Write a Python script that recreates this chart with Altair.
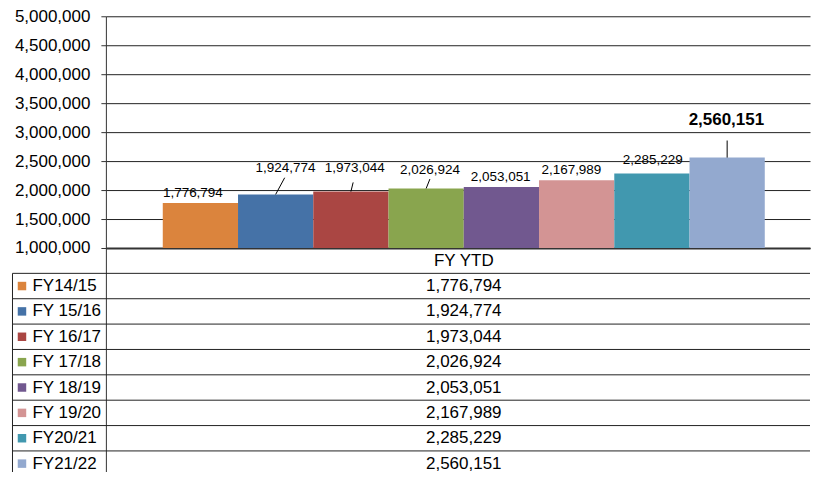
import altair as alt
import pandas as pd

# ---- data ----
category = "FY YTD"
series = ["FY14/15", "FY 15/16", "FY 16/17", "FY 17/18", "FY 18/19", "FY 19/20", "FY20/21", "FY21/22"]
values = [1776794, 1924774, 1973044, 2026924, 2053051, 2167989, 2285229, 2560151]
colors = ["#DB843D", "#4572A7", "#AA4643", "#89A54E", "#71588F", "#D39494", "#4198AF", "#93A9CF"]
y_ticks = [1000000, 1500000, 2000000, 2500000, 3000000, 3500000, 4000000, 4500000, 5000000]

# data-label placement (in data units: bar index / value), as moved in the original
label_x = [-0.10, 1.13, 2.05, 3.05, 3.99, 4.93, 6.01, 6.99]
label_y = [1955000, 2376000, 2376000, 2350000, 2230000, 2342000, 2522000, 3216000]
leader_idx = [1, 2, 3, 7]
leader_top_x = [1.12, 2.03, 3.05, 7.0]
leader_top_y = [2213000, 2132000, 2190000, 2855000]

# ---- layout ----
W = 705          # plot width
H = 232          # bar plot height
ROW_H = 25.4
rows = [category] + series
TH = ROW_H * len(rows)
EXT = 94         # width of the left axis / table label column
FONT = "Liberation Sans"
LINE = "#222222"
X_MIN, X_MAX = -1.256, len(series) - 0.5 + 0.601
# table values are centred under the middle of the bar group
TABLE_CX = W * ((len(series) - 1) / 2 - X_MIN) / (X_MAX - X_MIN)

idx = list(range(len(series)))
bars = pd.DataFrame({
    "series": series,
    "value": values,
    "x0": [i - 0.5 for i in idx],
    "x1": [i + 0.5 for i in idx],
    "label_x": label_x,
    "label_y": label_y,
    "last": [i == len(series) - 1 for i in idx],
})
leaders = pd.DataFrame({
    "x": leader_idx,
    "y": [values[i] for i in leader_idx],
    "x2": leader_top_x,
    "y2": leader_top_y,
})

color_scale = alt.Scale(domain=series, range=colors)
xscale = alt.Scale(domain=[X_MIN, X_MAX], nice=False, zero=False)
yscale = alt.Scale(domain=[y_ticks[0], y_ticks[-1]], nice=False, zero=False)
x_axis = alt.Axis(labels=False, ticks=False, grid=False, domainColor="#333333",
                  domainWidth=2, title=None, minExtent=0, maxExtent=0)
y_axis = alt.Axis(values=y_ticks, labelExpr="format(datum.value, ',')", tickSize=5,
                  labelPadding=11, labelFontSize=17, labelColor="black", labelFont=FONT,
                  gridColor=LINE, gridWidth=1, domainColor="#333333",
                  tickColor="#333333", title=None, minExtent=EXT, maxExtent=EXT)

base = alt.Chart(bars)
bar_layer = base.mark_bar(stroke=None).encode(
    x=alt.X("x0:Q", scale=xscale, axis=x_axis),
    x2="x1:Q",
    y=alt.Y("value:Q", scale=yscale, axis=y_axis),
    y2=alt.datum(y_ticks[0]),
    color=alt.Color("series:N", scale=color_scale, legend=None),
)
labels = base.transform_filter("!datum.last").mark_text(
    fontSize=13.5, font=FONT, color="black", baseline="middle"
).encode(
    x=alt.X("label_x:Q", scale=xscale, axis=x_axis),
    y=alt.Y("label_y:Q", scale=yscale, axis=y_axis),
    text=alt.Text("value:Q", format=","),
)
label_last = base.transform_filter("datum.last").mark_text(
    fontSize=17, fontWeight="bold", font=FONT, color="black", baseline="middle"
).encode(
    x=alt.X("label_x:Q", scale=xscale, axis=x_axis),
    y=alt.Y("label_y:Q", scale=yscale, axis=y_axis),
    text=alt.Text("value:Q", format=","),
)
leader_layer = alt.Chart(leaders).mark_rule(color="black", strokeWidth=1).encode(
    x=alt.X("x:Q", scale=xscale, axis=x_axis),
    y=alt.Y("y:Q", scale=yscale, axis=y_axis),
    x2="x2:Q", y2="y2:Q",
)

top = alt.layer(bar_layer, leader_layer, labels, label_last).properties(width=W, height=H)

# ---- data table ----
table = pd.DataFrame({
    "row": rows,
    "text": [category] + [f"{v:,}" for v in values],
})
series_rows = pd.DataFrame({"row": series, "series": series})

yrow = alt.Scale(domain=rows, paddingInner=0, paddingOuter=0)
row_axis = alt.Axis(title=None, labelAlign="left", labelPadding=74, ticks=False,
                    grid=False, domainColor="#333333", labelFontSize=17,
                    labelFont=FONT, labelColor="black", labelBaseline="middle",
                    labelExpr=f"datum.label == '{category}' ? '' : datum.label",
                    minExtent=EXT, maxExtent=EXT)
cell_text = alt.Chart(table).mark_text(fontSize=17, font=FONT, color="black").encode(
    y=alt.Y("row:N", scale=yrow, sort=rows, axis=row_axis),
    x=alt.value(TABLE_CX),
    text="text:N",
)
swatches = alt.Chart(series_rows).mark_square(size=72, opacity=1).encode(
    y=alt.Y("row:N", scale=yrow, sort=rows, axis=row_axis),
    x=alt.value(-84),
    color=alt.Color("series:N", scale=color_scale, legend=None),
)
row_lines = alt.Chart(series_rows).mark_rule(color=LINE, strokeWidth=1).encode(
    y=alt.Y("row:N", scale=yrow, sort=rows, axis=row_axis, bandPosition=0),
    x=alt.value(-93.5),
    x2=alt.value(W),
)
left_border = alt.Chart(series_rows.head(1)).mark_rule(color=LINE, strokeWidth=1).encode(
    x=alt.value(-93.5),
    y=alt.value(ROW_H),
    y2=alt.value(TH),
)
bottom = alt.layer(row_lines, left_border, swatches, cell_text).properties(width=W, height=TH)

chart = alt.vconcat(top, bottom, spacing=0, bounds="flush").properties(
    padding={"left": 4, "top": -1, "right": 0, "bottom": -6.1}
).configure(font=FONT).configure_view(stroke=None)

chart.save("out.html", embed_options={"renderer": "svg", "actions": False})
